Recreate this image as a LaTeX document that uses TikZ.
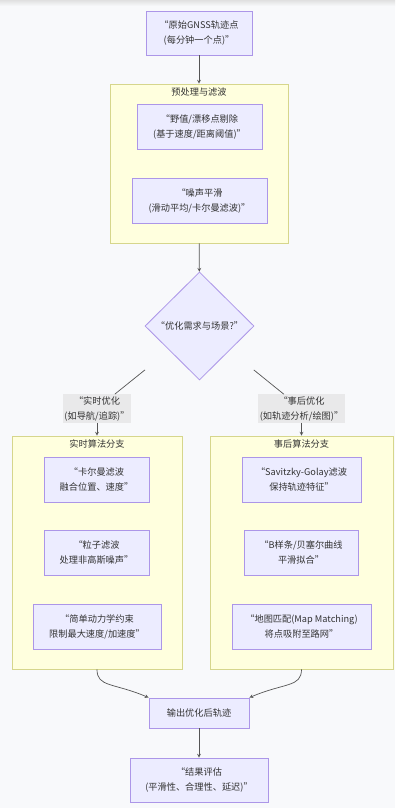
\documentclass[tikz,border=0pt]{standalone}
\usepackage{fontspec}
\setmainfont{Noto Sans CJK SC}
\usetikzlibrary{shapes.geometric}
\definecolor{bgcol}{HTML}{F8F9FB}
\definecolor{boxfill}{HTML}{ECECFF}
\definecolor{boxline}{RGB}{172,150,232}
\definecolor{grpfill}{HTML}{FFFFDE}
\definecolor{grpline}{RGB}{214,214,140}
\definecolor{lblfill}{HTML}{E9E9EA}
\definecolor{txtcol}{HTML}{333333}
\definecolor{linecol}{HTML}{555555}
\tikzset{
  box/.style={draw=boxline, fill=boxfill, line width=0.8pt, align=center, inner sep=0pt, minimum height=45pt},
  grp/.style={draw=grpline, fill=grpfill, line width=0.8pt, inner sep=0pt},
  lbl/.style={fill=lblfill, align=center, inner sep=1.8pt},
  dec/.style={diamond, draw=boxline, fill=boxfill, line width=0.8pt, inner sep=0pt, minimum width=109pt, minimum height=108pt, align=center},
  arr/.style={-stealth, draw=linecol, line width=0.7pt},
  edge/.style={draw=linecol, line width=0.7pt}
}
\begin{document}
\begin{tikzpicture}[x=1pt,y=-1pt,font=\fontsize{9.2}{15}\selectfont,text=txtcol]
  \useasboundingbox (0,0) rectangle (403,812);
  \fill[white] (0,0) rectangle (403,812);
  \fill[bgcol] (0,0) rectangle (395,808);
  \shade[top color=black!12, bottom color=bgcol] (0,0) rectangle (395,6);
  %gruppi
  \node[grp, minimum width=178pt, minimum height=159pt] (grpP) at (199,163.5) {};
  \node (ttlP) at (199,92) {预处理与滤波};
  \node[grp, minimum width=170pt, minimum height=233pt] (grpL) at (97,552.5) {};
  \node (ttlL) at (97,444) {实时算法分支};
  \node[grp, minimum width=183pt, minimum height=233pt] (grpR) at (301.5,552.5) {};
  \node (ttlR) at (301.5,444) {事后算法分支};
  %nodi
  \node[box, minimum width=106pt, minimum height=44pt] (src) at (199,33) {“原始GNSS轨迹点\\(每分钟一个点)”};
  \node[box, minimum width=125pt] (clean) at (199.5,126.5) {“野值/漂移点剔除\\(基于速度/距离阈值)”};
  \node[box, minimum width=135pt] (smooth) at (199.5,200.5) {“噪声平滑\\(滑动平均/卡尔曼滤波)”};
  \node[dec] (ask) at (199.5,326) {“优化需求与场景?”};
  \node[lbl] (lblL) at (97,408.5) {“实时优化\\(如导航/追踪)”};
  \node[lbl] (lblR) at (301.5,408.5) {“事后优化\\(如轨迹分析/绘图)”};
  \node[box, minimum width=105pt] (kalman) at (96.5,479.5) {“卡尔曼滤波\\融合位置、速度”};
  \node[box, minimum width=105pt] (particle) at (96.5,552.5) {“粒子滤波\\处理非高斯噪声”};
  \node[box, minimum width=128pt] (dyn) at (97,626.5) {“简单动力学约束\\限制最大速度/加速度”};
  \node[box, minimum width=119pt] (sg) at (301.5,479.5) {“Savitzky-Golay滤波\\保持轨迹特征”};
  \node[box, minimum width=114pt] (bspl) at (301,552.5) {“B样条/贝塞尔曲线\\平滑拟合”};
  \node[box, minimum width=139pt] (mapm) at (301.5,626.5) {“地图匹配(Map Matching)\\将点吸附至路网”};
  \node[box, minimum width=100pt, minimum height=30pt] (out) at (199,713) {输出优化后轨迹};
  \node[box, minimum width=138pt, minimum height=44pt] (eval) at (199,780) {“结果评估\\(平滑性、合理性、延迟)”};
  %frecce
  \draw[arr] (src) -- (grpP);
  \draw[arr] (grpP) -- (ask);
  \draw[edge, shorten <=31pt] (ask) -- (lblL);
  \draw[edge, shorten <=31pt] (ask) -- (lblR);
  \draw[arr] (lblL) -- (grpL);
  \draw[arr] (lblR) -- (grpR);
  \draw[arr] (grpL.south) .. controls +(0,18) and +(-35,-15) .. (out.north west);
  \draw[arr] (grpR.south) .. controls +(0,18) and +(35,-15) .. (out.north east);
  \draw[arr] (out) -- (eval);
\end{tikzpicture}
\end{document}
